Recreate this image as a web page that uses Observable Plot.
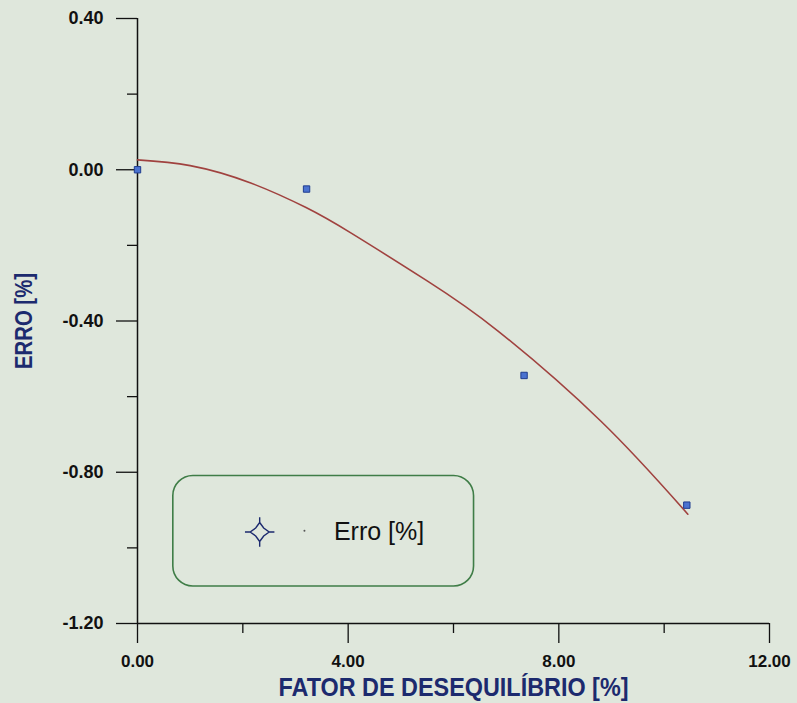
<!DOCTYPE html>
<html><head><meta charset="utf-8">
<script src="https://cdn.jsdelivr.net/npm/d3@7"></script>
<script src="https://cdn.jsdelivr.net/npm/@observablehq/plot@0.6"></script>
<style>
html,body{margin:0;padding:0;background:#dfe7dc;}
</style></head><body><div id="chart"></div>
<script>
// measured data points
const pointX = [0, 3.21, 7.34, 10.43];
const pointY = [0, -0.051, -0.544, -0.887];
// fitted curve
const fitX = [0, 1.0, 2.15, 3.2, 4.05, 5.5, 6.84, 8.8, 10.45];
const fitY = [0.026, 0.011, -0.035, -0.10, -0.167, -0.294, -0.426, -0.665, -0.911];
// ticks
const xMajor = [0, 4, 8, 12];
const xMinor = [2, 6, 10];
const yMajor = [0.4, 0, -0.4, -0.8, -1.2];
const yMinor = [0.2, -0.2, -0.6, -1.0];
// texts
const legendLabel = "Erro [%]";
const xTitle = "FATOR DE DESEQUILÍBRIO [%]";
const yTitle = "ERRO [%]";

// legend layout (in data units)
const legendBox = {x1: 0.68, x2: 6.39, y1: -0.81, y2: -1.102};
const legendSymbolPos = {x: 2.32, y: -0.958};
const legendSpeckPos = {x: 3.17, y: -0.955};
const legendTextPos = {x: 3.73, y: -0.958};

const points = pointX.map((x, i) => ({x, y: pointY[i]}));
const fit = fitX.map((x, i) => ({x, y: fitY[i]}));

const sparkle = {
  draw(ctx, size) {
    const R = Math.sqrt(size / Math.PI);
    const k = R * 0.42;
    ctx.moveTo(0, -R); ctx.lineTo(k, -k); ctx.lineTo(R, 0); ctx.lineTo(k, k);
    ctx.lineTo(0, R); ctx.lineTo(-k, k); ctx.lineTo(-R, 0); ctx.lineTo(-k, -k); ctx.closePath();
    const e = R * 1.55;
    ctx.moveTo(0, -R); ctx.lineTo(0, -e);
    ctx.moveTo(0, R); ctx.lineTo(0, e);
    ctx.moveTo(R, 0); ctx.lineTo(e, 0);
    ctx.moveTo(-R, 0); ctx.lineTo(-e, 0);
  }
};

const fmt = d => d.toFixed(2);
const narrow = "'Liberation Sans Narrow', 'Liberation Sans', Arial, sans-serif";
const navy = "#1c2a6e";

const chart = Plot.plot({
  width: 797,
  height: 703,
  marginLeft: 137,
  marginRight: 28,
  marginTop: 18,
  marginBottom: 80,
  style: {background: "#dfe7dc", fontFamily: "'Liberation Sans', Arial, sans-serif", overflow: "visible"},
  x: {domain: [0, 12]},
  y: {domain: [-1.2, 0.4]},
  marks: [
    Plot.axisX(xMajor, {tickSize: 20, tickPadding: 11, tickFormat: fmt, fontSize: 17, fontWeight: "bold", fill: "#111", stroke: "#111", strokeWidth: 1.3, label: null}),
    Plot.axisX(xMinor, {tickSize: 10, tickFormat: () => "", stroke: "#111", strokeWidth: 1.3, label: null}),
    Plot.axisY(yMajor, {tickSize: 21, tickPadding: 13, tickFormat: fmt, fontSize: 18, fontWeight: "bold", fill: "#111", stroke: "#111", strokeWidth: 1.3, label: null}),
    Plot.axisY(yMinor, {tickSize: 10, tickFormat: () => "", stroke: "#111", strokeWidth: 1.3, label: null}),
    Plot.ruleX([0], {stroke: "#111", strokeWidth: 1.5}),
    Plot.ruleY([-1.2], {stroke: "#111", strokeWidth: 1.5}),
    Plot.line(fit, {x: "x", y: "y", curve: "natural", stroke: "#a0423f", strokeWidth: 1.6}),
    Plot.dot(points, {x: "x", y: "y", symbol: "square", r: 3.6, fill: "#4a72d0", stroke: "#1f3c8f", strokeWidth: 1}),
    Plot.rect([legendBox], {x1: "x1", x2: "x2", y1: "y1", y2: "y2", rx: 20, fill: "none", stroke: "#3f7d47", strokeWidth: 1.6}),
    Plot.dot([legendSymbolPos], {x: "x", y: "y", symbol: sparkle, r: 9.5, fill: "none", stroke: navy, strokeWidth: 1.4}),
    Plot.dot([legendSpeckPos], {x: "x", y: "y", r: 1, fill: "#555", stroke: "none"}),
    Plot.text([legendTextPos], {x: "x", y: "y", text: () => legendLabel, textAnchor: "start", fontSize: 25, fill: "#111"}),
    Plot.text([xTitle], {frameAnchor: "bottom", dy: 72, text: d => d, fontSize: 26, fontWeight: "bold", fontFamily: narrow, fill: navy, className: "xtitle"}),
    Plot.text([yTitle], {frameAnchor: "left", dx: -113, rotate: -90, textAnchor: "middle", text: d => d, fontSize: 23, fontWeight: "bold", fontFamily: narrow, fill: navy, className: "ytitle"})
  ]
});
d3.select(chart).selectAll(".xtitle text").attr("textLength", 350).attr("lengthAdjust", "spacingAndGlyphs");
d3.select(chart).selectAll(".ytitle text").attr("textLength", 96).attr("lengthAdjust", "spacingAndGlyphs");
document.getElementById("chart").appendChild(chart);
</script>
</body></html>
